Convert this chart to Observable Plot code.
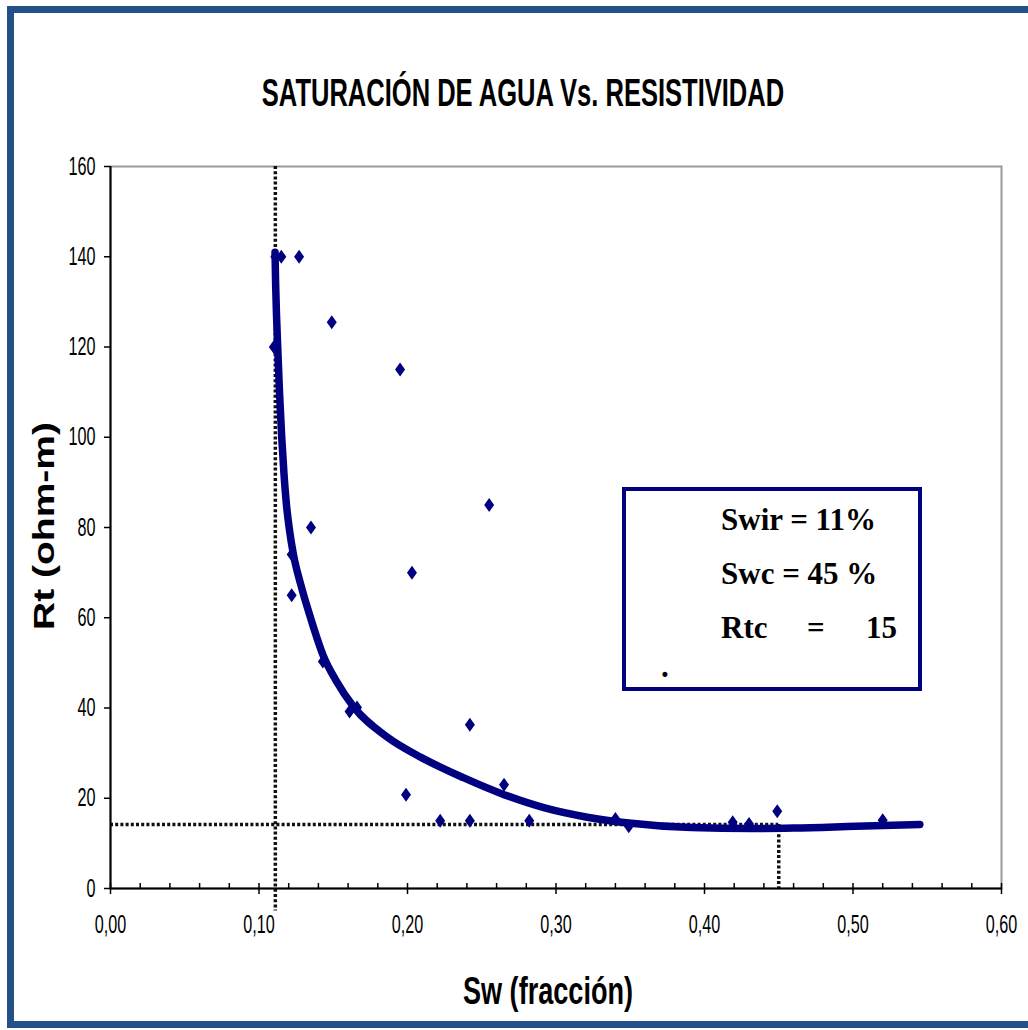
<!DOCTYPE html>
<html>
<head>
<meta charset="utf-8">
<script src="https://cdn.jsdelivr.net/npm/d3@7"></script>
<script src="https://cdn.jsdelivr.net/npm/@observablehq/plot@0.6"></script>
<style>
  body { margin: 0; background: #fff; }
  #wrap { position: relative; width: 1028px; height: 1030px; overflow: hidden; background: #fff; }
  #border { position: absolute; left: 7px; top: 6px; width: 1060px; height: 1008px; border: 7px solid #24508a; box-sizing: content-box; }
  #chart { position: absolute; left: 0; top: 0; }
  .lbl { position: absolute; white-space: nowrap; line-height: 1; color: #000; }
  .sans { font-family: "Liberation Sans", Arial, sans-serif; font-weight: bold; }
  .serif { font-family: "Liberation Serif", "Times New Roman", serif; font-weight: bold; font-size: 31px; }
  #legendBox { position: absolute; left: 622px; top: 487px; width: 292px; height: 196px; border: 4px solid #000080; }
</style>
</head>
<body>
<div id="wrap">
  <div id="border"></div>
  <div id="chart"></div>
  <div id="legendBox"></div>
</div>
<script>
// ---- data ----
const title = "SATURACIÓN DE AGUA Vs. RESISTIVIDAD";
const xLabel = "Sw (fracción)";
const yLabel = "Rt (ohm-m)";

// measured points: Sw (fraction) and Rt (ohm-m)
const sw = [0.111, 0.115, 0.127, 0.110, 0.149, 0.195, 0.255, 0.135, 0.122, 0.122, 0.203, 0.143, 0.161, 0.166,
            0.242, 0.199, 0.265, 0.222, 0.242, 0.282, 0.340, 0.349, 0.419, 0.430, 0.449, 0.520];
const rt = [140, 140, 140, 120, 125.5, 115, 85, 80, 74, 65, 70, 50.3, 39.2, 40.1,
            36.3, 20.8, 23, 15, 15, 15, 15.4, 13.8, 14.7, 14.3, 17.1, 15.1];

// fitted trend curve as drawn
const curveSw = [0.1108, 0.1112, 0.1118, 0.1126, 0.1138, 0.1153, 0.1168, 0.1185, 0.1205, 0.1232, 0.1280, 0.1347,
                 0.1434, 0.1520, 0.1636, 0.1865, 0.2094, 0.2380, 0.2650, 0.2930, 0.3210, 0.3490, 0.3910,
                 0.4320, 0.4600, 0.5020, 0.5450];
const curveRt = [141, 134, 127, 120, 110, 100, 92, 85, 79.5, 74, 67.5, 60,
                 51.5, 46, 40.3, 33.5, 29, 24.5, 20.8, 17.8, 15.8, 14.5, 13.5,
                 13.3, 13.4, 13.8, 14.2];

// reference values
const swir = 0.111;   // vertical dotted line
const swc = 0.45;     // vertical dotted line
const rtc = 14.2;     // horizontal dotted line
const belowAxis = -5; // swir line runs slightly past the x axis

const yTicks = [0, 20, 40, 60, 80, 100, 120, 140, 160];
const xTicks = [0, 0.1, 0.2, 0.3, 0.4, 0.5, 0.6];
const xMinor = [0, 0.02, 0.04, 0.06, 0.08, 0.1, 0.12, 0.14, 0.16, 0.18, 0.2, 0.22, 0.24, 0.26, 0.28, 0.3,
                0.32, 0.34, 0.36, 0.38, 0.4, 0.42, 0.44, 0.46, 0.48, 0.5, 0.52, 0.54, 0.56, 0.58, 0.6];

const legendLines = ["Swir = 11%", "Swc = 45 %"];
const legendRtc = ["Rtc", "=", "15"];

// ---- build ----
const points = sw.map((d, i) => ({sw: d, rt: rt[i]}));
const curve = curveSw.map((d, i) => ({sw: d, rt: curveRt[i]}));

const marker = {
  draw(ctx) {
    const w = 5, h = 7;
    ctx.moveTo(0, -h);
    ctx.lineTo(w, 0);
    ctx.lineTo(0, h);
    ctx.lineTo(-w, 0);
    ctx.closePath();
  }
};

const dotted = {stroke: "#111", strokeWidth: 3.5, strokeDasharray: "3,2.2"};
const fmtX = d => d.toFixed(2).replace(".", ",");

const chart = Plot.plot({
  width: 1028,
  height: 1030,
  marginLeft: 110,
  marginRight: 27,
  marginTop: 166,
  marginBottom: 142,
  x: {domain: [0, 0.6]},
  y: {domain: [0, 160]},
  style: {
    fontFamily: '"Liberation Sans", Arial, sans-serif',
    fontSize: "21px",
    color: "#000",
    background: "transparent",
    overflow: "visible"
  },
  marks: [
    Plot.frame({stroke: "#9a9a9a", strokeWidth: 2}),
    Plot.ruleX([swir], {y1: 160, y2: belowAxis, ...dotted}),
    Plot.ruleX([swc], {y1: rtc, y2: 0, ...dotted}),
    Plot.ruleY([rtc], {x1: 0, x2: swc, ...dotted}),
    Plot.line(curve, {x: "sw", y: "rt", stroke: "#000080", strokeWidth: 7.5, curve: "monotone-x"}),
    Plot.dot(points, {x: "sw", y: "rt", symbol: marker, r: 5, fill: "#000080", stroke: null}),
    Plot.ruleX([0], {stroke: "#000", strokeWidth: 2}),
    Plot.ruleY([0], {stroke: "#000", strokeWidth: 2}),
    Plot.axisY({ticks: yTicks, tickSize: 6, tickPadding: 9, tickFormat: d => String(d), label: null, fontSize: 21, strokeWidth: 1.5}),
    Plot.axisX({ticks: xMinor, tickSize: -5, tickFormat: () => "", label: null, strokeWidth: 1.5}),
    Plot.axisX({ticks: xTicks, tickSize: 6, tickPadding: 21, tickFormat: fmtX, label: null, fontSize: 21, strokeWidth: 1.5})
  ]
});
document.getElementById("chart").appendChild(chart);

// narrow, tall tick labels like the reference (Arial Narrow look)
function squeeze(selector, sx, sy) {
  chart.querySelectorAll(selector).forEach(t => {
    let tr = t.getAttribute("transform") || "";
    const x = +t.getAttribute("x") || 0, y = +t.getAttribute("y") || 0;
    if (x || y) { t.removeAttribute("x"); t.removeAttribute("y"); tr = `${tr} translate(${x},${y})`; }
    t.setAttribute("transform", `${tr} scale(${sx},${sy})`);
  });
}
squeeze('[aria-label="y-axis tick label"] text', 0.77, 1.2);
squeeze('[aria-label="x-axis tick label"] text', 0.77, 1.2);

// ---- text overlays ----
const wrap = document.getElementById("wrap");
function addLabel(text, cls, css) {
  const el = document.createElement("div");
  el.className = "lbl " + cls;
  el.textContent = text;
  Object.assign(el.style, css);
  wrap.appendChild(el);
  return el;
}
function fitted(text, cx, cy, fontSize, targetWidth, sy, rotate) {
  const el = addLabel(text, "sans", {left: cx + "px", top: cy + "px", fontSize: fontSize + "px"});
  const sx = targetWidth / el.offsetWidth;
  el.style.transform = `translate(-50%,-50%)${rotate ? " rotate(-90deg)" : ""} scale(${sx},${sy})`;
  return el;
}
fitted(title, 523, 93, 31, 522, 1.25, false);
fitted(xLabel, 548, 990, 33, 170, 1.18, false);
fitted(yLabel, 44, 526, 30, 208, 1.0, true);

// legend text (baseline offsets for Liberation Serif 31px with line-height 1: ~ +26px)
const baseOff = 26;
addLabel(legendLines[0], "serif", {left: "721px", top: (530 - baseOff) + "px"});
addLabel(legendLines[1], "serif", {left: "721px", top: (584 - baseOff) + "px"});
addLabel(legendRtc[0], "serif", {left: "721px", top: (638 - baseOff) + "px"});
addLabel(legendRtc[1], "serif", {left: "807px", top: (638 - baseOff) + "px"});
addLabel(legendRtc[2], "serif", {left: "866px", top: (638 - baseOff) + "px"});
addLabel(".", "serif", {left: "661px", top: (677 - baseOff) + "px"});
</script>
</body>
</html>
